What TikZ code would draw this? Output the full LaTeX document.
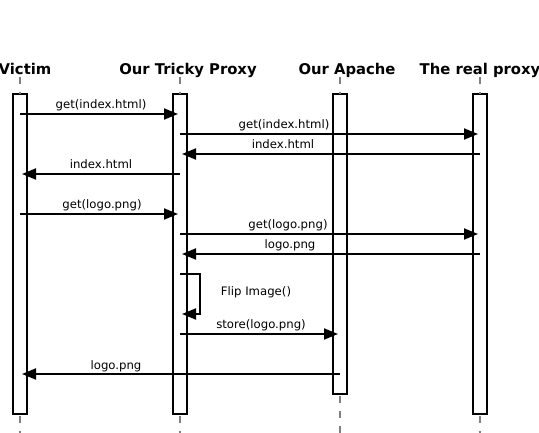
\documentclass[tikz,border=0pt]{standalone}
\usepackage{fontspec}
\setmainfont{DejaVu Sans}
\usetikzlibrary{arrows.meta, calc}
\usepackage{xcolor}
\definecolor{lifegray}{HTML}{808080}

\begin{document}
\begin{tikzpicture}[x=1pt, y=-1pt,
    actor/.style={font=\fontsize{14.8}{17}\selectfont\bfseries, anchor=base, inner sep=0pt},
    activation/.style={draw=black, line width=2pt, fill=white, inner sep=0pt, outer sep=0pt,
                       minimum width=14pt, anchor=north},
    lifeline/.style={draw=lifegray, line width=2pt, dash pattern=on 7pt off 8pt, dash phase=-2pt},
    msg/.style={draw=black, line width=2pt, -{Triangle[length=14pt, width=11pt]}, shorten >=2pt},
    lbl/.style={font=\fontsize{11.7}{13}\selectfont, anchor=base, inner sep=0pt}]
    \useasboundingbox (0,0) rectangle (539,433);
    \coordinate (top) at (0,75);
    \coordinate (bottom) at (0,436);
    % activation boxes
    \node[activation, minimum height=320pt] (victim) at (20,94) {};
    \node[activation, minimum height=320pt] (proxy)  at (180,94) {};
    \node[activation, minimum height=300pt] (apache) at (340,94) {};
    \node[activation, minimum height=320pt] (real)   at (480,94) {};
    \foreach \b in {victim, proxy, apache, real} {
      \draw[lifeline] (\b.north |- top) -- (\b.north);
      \draw[lifeline] (\b.south) -- (\b.south |- bottom);
    }
    \node[actor] (tvictim) at (25,75)  {Victim};
    \node[actor] (tproxy)  at (188,75) {Our Tricky Proxy};
    \node[actor] (tapache) at (347,75) {Our Apache};
    \node[actor] (treal)   at (480,75) {The real proxy};
    % message rows
    \foreach \n/\y in {m1/114, m2/134, m3/154, m4/174, m5/214, m6/234, m7/254,
                       m8a/274, m8b/314, m9/334, m10/374}
      \coordinate (\n) at (0,\y);
    \coordinate (loop) at (200,0);
    \draw[msg] (victim |- m1) -- (proxy |- m1);
    \node[lbl] (l1) at (101,109) {get(index.html)};
    \draw[msg] (proxy |- m2) -- (real |- m2);
    \node[lbl] (l2) at (284,129) {get(index.html)};
    \draw[msg] (real |- m3) -- (proxy |- m3);
    \node[lbl] (l3) at (283,149) {index.html};
    \draw[msg] (proxy |- m4) -- (victim |- m4);
    \node[lbl] (l4) at (101,169) {index.html};
    \draw[msg] (victim |- m5) -- (proxy |- m5);
    \node[lbl] (l5) at (102,209) {get(logo.png)};
    \draw[msg] (proxy |- m6) -- (real |- m6);
    \node[lbl] (l6) at (288,229) {get(logo.png)};
    \draw[msg] (real |- m7) -- (proxy |- m7);
    \node[lbl] (l7) at (290,249) {logo.png};
    \draw[msg] (proxy |- m8a) -- (loop |- m8a) -- (loop |- m8b) -- (proxy |- m8b);
    \node[lbl] (l8) at (256,295) {Flip Image()};
    \draw[msg] (proxy |- m9) -- (apache |- m9);
    \node[lbl] (l9) at (261,329) {store(logo.png)};
    \draw[msg] (apache |- m10) -- (victim |- m10);
    \node[lbl] (l10) at (116,369) {logo.png};
\end{tikzpicture}
\end{document}
